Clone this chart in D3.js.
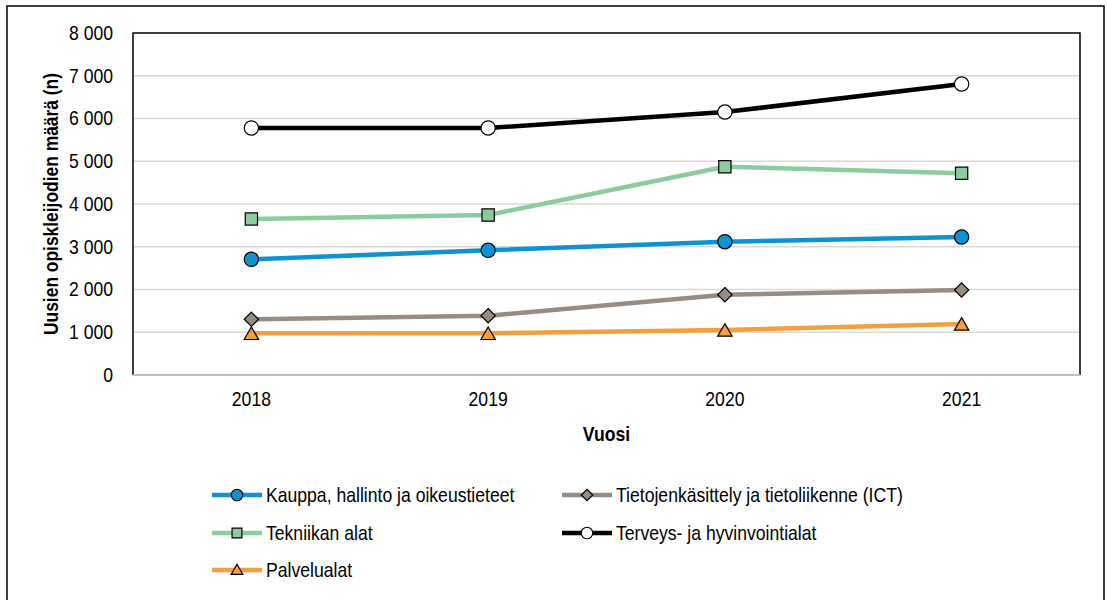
<!DOCTYPE html>
<html lang="fi">
<head>
<meta charset="utf-8">
<script src="https://cdn.jsdelivr.net/npm/d3@7"></script>
<style>
  html, body { margin: 0; padding: 0; background: #fff; }
  svg { display: block; font-family: "Liberation Sans", Arial, sans-serif; }
  .narrow { transform-box: fill-box; transform: scaleX(0.88); }
  .narrow.end { transform-origin: right center; }
  .narrow.mid { transform-origin: center center; }
  .narrow.start { transform-origin: left center; }
</style>
</head>
<body>
<svg id="chart" width="1107" height="600"></svg>
<script>
const years = ["2018", "2019", "2020", "2021"];
const yTicks = [0, 1000, 2000, 3000, 4000, 5000, 6000, 7000, 8000];

const kauppa = [2706, 2916, 3119, 3228];
const ict = [1303, 1388, 1879, 1988];
const tekniikka = [3649, 3743, 4873, 4718];
const terveys = [5778, 5778, 6152, 6807];
const palvelu = [975, 975, 1053, 1193];

const seriesNames = [
  "Kauppa, hallinto ja oikeustieteet",
  "Tietojenkäsittely ja tietoliikenne (ICT)",
  "Tekniikan alat",
  "Terveys- ja hyvinvointialat",
  "Palvelualat",
];

const series = [
  { name: seriesNames[0], values: kauppa, color: "#0f92d2", fill: "#0f92d2", shape: "circle" },
  { name: seriesNames[1], values: ict, color: "#968c83", fill: "#968c83", shape: "diamond" },
  { name: seriesNames[2], values: tekniikka, color: "#8ccb9e", fill: "#8ccb9e", shape: "square" },
  { name: seriesNames[3], values: terveys, color: "#000000", fill: "#ffffff", shape: "circle" },
  { name: seriesNames[4], values: palvelu, color: "#f2a03d", fill: "#f2a03d", shape: "triangle" },
];

const svg = d3.select("#chart");
const margin = { top: 33, right: 27, bottom: 225, left: 133 };
const width = 1107;
const height = 600;

// outer chart border
svg.append("rect")
  .attr("x", 7).attr("y", 6).attr("width", 1097).attr("height", 600)
  .attr("fill", "none").attr("stroke", "#000").attr("stroke-width", 1.5);

const xScale = d3.scaleBand().domain(years).range([margin.left, width - margin.right]);
const yScale = d3.scaleLinear().domain([0, 8000]).range([height - margin.bottom, margin.top]);

// gridlines
svg.append("g")
  .selectAll("line")
  .data(yTicks.filter((t) => t > 0 && t < 8000))
  .enter()
  .append("line")
  .attr("x1", margin.left).attr("x2", width - margin.right)
  .attr("y1", (d) => yScale(d)).attr("y2", (d) => yScale(d))
  .attr("stroke", "#d9d9d9").attr("stroke-width", 1.5);

// plot area border (top, right, left black; bottom gray axis)
const [x0, x1] = xScale.range();
const [yb, yt] = yScale.range();
svg.append("path")
  .attr("d", `M${x0},${yb} L${x0},${yt} L${x1},${yt} L${x1},${yb}`)
  .attr("fill", "none").attr("stroke", "#000").attr("stroke-width", 1.5);
svg.append("line")
  .attr("x1", x0).attr("x2", x1).attr("y1", yb).attr("y2", yb)
  .attr("stroke", "#bfbfbf").attr("stroke-width", 2);

const fmt = (v) => d3.format(",")(v).replace(/,/g, " ");

// y axis
const yAxis = svg.append("g")
  .attr("transform", `translate(${margin.left},0)`)
  .call(d3.axisLeft(yScale).tickValues(yTicks).tickFormat(fmt).tickSize(0).tickPadding(20));
yAxis.select(".domain").remove();
yAxis.selectAll("text").attr("font-size", 20).attr("fill", "#000").attr("class", "narrow end");
yAxis.attr("font-family", null);

// x axis
const xAxis = svg.append("g")
  .attr("transform", `translate(0,${yb})`)
  .call(d3.axisBottom(xScale).tickSize(0).tickPadding(17));
xAxis.select(".domain").remove();
xAxis.selectAll("text").attr("font-size", 20).attr("fill", "#000").attr("class", "narrow mid");
xAxis.attr("font-family", null);

// axis titles
svg.append("text")
  .attr("transform", `translate(58,${(yb + yt) / 2}) rotate(-90)`)
  .attr("text-anchor", "middle")
  .attr("font-size", 20).attr("font-weight", "bold")
  .attr("textLength", 262).attr("lengthAdjust", "spacingAndGlyphs")
  .text("Uusien opiskleijodien määrä (n)");

svg.append("text")
  .attr("x", (x0 + x1) / 2).attr("y", 441)
  .attr("text-anchor", "middle")
  .attr("font-size", 20).attr("font-weight", "bold")
  .attr("class", "narrow mid")
  .text("Vuosi");

function markerPath(shape, size) {
  const sym = {
    circle: d3.symbolCircle,
    square: d3.symbolSquare,
    diamond: d3.symbolDiamond2,
    triangle: d3.symbolTriangle2,
  }[shape];
  return d3.symbol().type(sym).size(size)();
}

const markerSize = { circle: 160, square: 150, diamond: 130, triangle: 150 };
const triShift = 2;

const line = d3.line()
  .x((d, i) => xScale(years[i]) + xScale.bandwidth() / 2)
  .y((d) => yScale(d));

series.forEach((s) => {
  svg.append("path")
    .datum(s.values)
    .attr("d", line)
    .attr("fill", "none")
    .attr("stroke", s.color)
    .attr("stroke-width", 4.5)
    .attr("stroke-linejoin", "round");
  svg.append("g")
    .selectAll("path")
    .data(s.values)
    .enter()
    .append("path")
    .attr("transform", (d, i) => {
      const dy = s.shape === "triangle" ? triShift : 0;
      return `translate(${xScale(years[i]) + xScale.bandwidth() / 2},${yScale(d) + dy})`;
    })
    .attr("d", markerPath(s.shape, markerSize[s.shape]))
    .attr("fill", s.fill)
    .attr("stroke", "#000")
    .attr("stroke-width", 1.2);
});

// legend
const legendCols = [212, 562];
const legendRows = [495, 533, 570];
series.forEach((s, i) => {
  const lx = legendCols[i % 2];
  const ly = legendRows[Math.floor(i / 2)];
  const g = svg.append("g").attr("transform", `translate(${lx},${ly})`);
  g.append("line")
    .attr("x1", 0).attr("x2", 50).attr("y1", 0).attr("y2", 0)
    .attr("stroke", s.color).attr("stroke-width", 4.5);
  g.append("path")
    .attr("transform", `translate(25,${s.shape === "triangle" ? 1 : 0})`)
    .attr("d", markerPath(s.shape, markerSize[s.shape] * 0.65))
    .attr("fill", s.fill)
    .attr("stroke", "#000")
    .attr("stroke-width", 1.2);
  g.append("text")
    .attr("x", 54).attr("y", 0).attr("dy", "0.35em")
    .attr("font-size", 20).attr("fill", "#000")
    .attr("class", "narrow start")
    .text(s.name);
});
</script>
</body>
</html>
